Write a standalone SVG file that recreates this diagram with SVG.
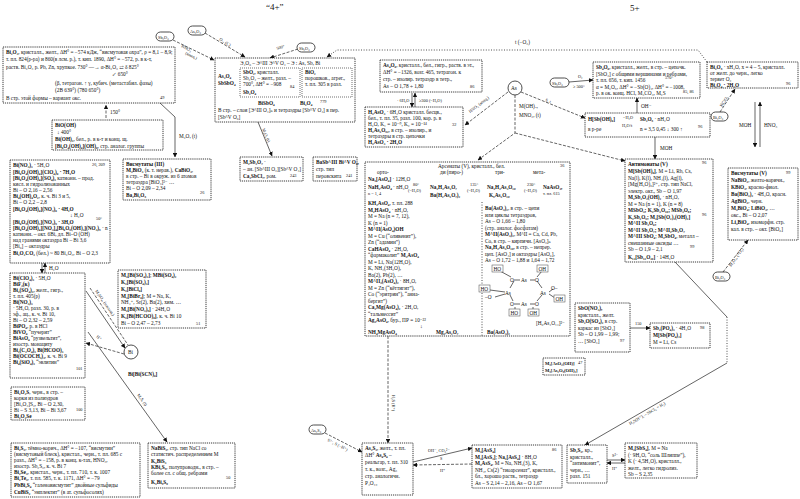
<svg xmlns="http://www.w3.org/2000/svg" width="800" height="499" viewBox="0 0 800 499">
<style>
text{font-family:"Liberation Serif","DejaVu Serif",serif;font-size:5.3px;fill:#111}
.b{font-weight:bold}
.h{font-size:9px}
.s{font-size:4.3px}
.sm{font-size:4.7px}
.bx{fill:#fff;stroke:#222;stroke-width:0.9;stroke-dasharray:1.2 0.9}
.in{fill:none;stroke:#333;stroke-width:0.7;stroke-dasharray:1 1}
.ov{fill:#fff;stroke:#222;stroke-width:0.8}
.d{fill:none;stroke:#222;stroke-width:0.7;stroke-dasharray:3 1.5}
.dt{fill:none;stroke:#222;stroke-width:0.8;stroke-dasharray:1 1.6}
.l{fill:none;stroke:#222;stroke-width:0.7}
.sb{fill:#fff;stroke:#444;stroke-width:0.5}
</style>
<defs>
<marker id="ah" viewBox="0 0 6 6" refX="5.5" refY="3" markerUnits="userSpaceOnUse" markerWidth="4.5" markerHeight="4.5" orient="auto"><path d="M0,0 L6,3 L0,6 z" fill="#111"/></marker>
</defs>
<rect width="800" height="499" fill="#fff"/>
<text class="h" x="266" y="10">“4+”</text>
<text class="h" x="630" y="11">5+</text>

<g id="connectors">
<path class="d" d="M205,33 L245,57" marker-end="url(#ah)"/>
<text class="s" transform="translate(219,40) rotate(31)">O₂, (C)</text>
<path class="d" d="M173,40 L214,60" marker-end="url(#ah)"/>
<text class="s" transform="translate(181,47) rotate(27)">HNO₃</text>
<text class="s" transform="translate(185,54) rotate(27)">(конц.)</text>
<path class="d" d="M298,49 L270,58" marker-end="url(#ah)"/>
<text class="s" transform="translate(277,50) rotate(-18)">500°</text>
<path class="dt" d="M707,62 L698,50 L337,50 L327,57" marker-end="url(#ah)"/>
<text x="515" y="44">t (−O₂)</text>
<path class="l" d="M160,103 L175,117 L175,157" marker-end="url(#ah)"/>
<text x="179" y="138">M₂O, (t)</text>
<path class="d" d="M106,118 L106,105" marker-end="url(#ah)"/>
<text x="110" y="114">150°</text>
<path class="l" d="M258,122 L272,156" marker-end="url(#ah)"/>
<text class="s" transform="translate(262,129) rotate(67)">M₂O, (t)</text>
<path class="l" d="M412,93 L412,107" marker-end="url(#ah)"/>
<path class="l" d="M415,107 L415,93" marker-end="url(#ah)"/>
<text class="s" x="397" y="102">· 6H₂O</text>
<text class="s" x="419" y="102">≥300 (−H₂O)</text>
<path class="l" d="M42,263 L42,273" marker-end="url(#ah)"/>
<path class="l" d="M45,273 L45,263" marker-end="url(#ah)"/>
<text x="49" y="270">H₂O</text>
<path class="l" d="M86,291 L125,348" marker-end="url(#ah)"/>
<path class="d" d="M90,288 L128,345"/>
<text class="s" transform="translate(95,291) rotate(55)">M₂SO₄, (насыщ.)</text>
<path class="d" d="M124,354 L86,343" marker-end="url(#ah)"/>
<text class="s" transform="translate(96,337) rotate(40)">H⁺</text>
<path class="l" d="M88,332 L167,442" marker-end="url(#ah)"/>
<text class="s" transform="translate(137,395) rotate(54)">M₂S, (t)</text>
<path class="d" d="M508,92 L465,125" marker-end="url(#ah)"/>
<text class="s" transform="translate(470,113) rotate(-37)">HNO₃ (конц.)</text>
<path class="d" d="M515,95 L515,133 L478,160" marker-end="url(#ah)"/>
<text x="519" y="108">M(OH)ₓ,</text>
<text x="519" y="117">MNO₃, (t)</text>
<path class="d" d="M515,133 L625,161" marker-end="url(#ah)"/>
<path class="d" d="M521,92 L585,118" marker-end="url(#ah)"/>
<text class="s" transform="translate(545,101) rotate(22)">S, t</text>
<path class="l" d="M569,82 L593,80" marker-end="url(#ah)"/>
<text class="s" x="578" y="78">O₂</text>
<text class="s" x="573" y="88">≥ 500°</text>
<path class="l" d="M637,113 L637,98" marker-end="url(#ah)"/>
<text x="641" y="108">OH⁻</text>
<path class="l" d="M655,137 L655,159" marker-end="url(#ah)"/>
<text x="660" y="150">MOH</text>
<path class="d" d="M720,112 L735,89" marker-end="url(#ah)"/>
<text class="s" transform="translate(722,107) rotate(-57)">KClO₃</text>
<path class="l" d="M755,102 L755,147" marker-end="url(#ah)"/>
<path class="l" d="M760,147 L760,102" marker-end="url(#ah)"/>
<text x="739" y="127">MOH</text>
<text x="764" y="127">HNO₃</text>
<path class="d" d="M723,272 L748,240" marker-end="url(#ah)"/>
<text class="s" transform="translate(731,267) rotate(-55)">M₂O₂, (+O₂)</text>
<path class="l" d="M675,262 L727,317"/>
<path class="dt" d="M727,317 L727,363"/>
<path class="l" d="M727,363 L585,445" marker-end="url(#ah)"/>
<text class="s" transform="translate(630,425) rotate(-30)">H₂S(H⁺), – SbCl₃ + H₂)</text>
<path class="d" d="M388,336 L388,443" marker-end="url(#ah)"/>
<text class="s" transform="translate(392,395) rotate(90)">H₂S (H⁺)</text>
<path class="d" d="M325,433 L362,452" marker-end="url(#ah)"/>
<text class="s" transform="translate(327,441) rotate(27)">S²⁻, S (−H⁺)</text>
<path class="l" d="M413,462 L472,448" marker-end="url(#ah)"/>
<text class="s" x="428" y="452">OH⁻, CO₃²⁻</text>
<text class="s" x="440" y="460">S</text>
<path class="d" d="M472,464 L413,465" marker-end="url(#ah)"/>
<text class="s" x="440" y="472">H⁺</text>
<path class="l" d="M607,460 L625,460" marker-end="url(#ah)"/>
<path class="l" d="M625,463 L607,463" marker-end="url(#ah)"/>
<text class="s" x="612" y="457">S²⁻</text>
<text class="s" x="612" y="470">H⁺</text>
<path class="l" d="M630,328 L650,328" marker-end="url(#ah)"/>
<text class="s" x="635" y="325">150</text>
</g>

<g id="ovals">
<rect class="ov" x="156" y="32" width="18" height="9" rx="4.5"/><text class="s" x="158" y="38.5">Sb₂O₃</text>
<rect class="ov" x="188" y="26" width="18" height="9" rx="4.5"/><text class="s" x="190" y="32.5">As₂O₃</text>
<rect class="ov" x="297" y="43" width="18" height="9" rx="4.5"/><text class="s" x="299" y="49.5">Sb₂O₃</text>
<rect class="ov" x="550" y="78" width="19" height="9" rx="4.5"/><text class="s" x="552" y="84.5">Sb₂O₃</text>
<rect class="ov" x="711" y="112" width="17" height="9" rx="4.5"/><text class="s" x="713" y="118.5">Bi₂O₃</text>
<rect class="ov" x="713" y="272" width="17" height="9" rx="4.5"/><text class="s" x="715" y="278.5">Bi₂O₃</text>
<rect class="ov" x="309" y="425" width="17" height="9" rx="4.5"/><text class="s" x="311" y="431.5">As₂S₃</text>
<circle class="ov" cx="515" cy="88" r="7"/><text x="511" y="90">As</text>
<circle class="ov" cx="131" cy="352" r="7"/><text x="128" y="354">Bi</text>
<text class="b" x="128" y="376">Bi[Bi(SCN)₆]</text>
</g>

<g id="n-bi2o3">
<rect class="bx" x="3" y="47" width="172" height="56"/>
<text x="6" y="54"><tspan class="b">Bi₂O₃</tspan>, кристалл., желт., ΔH° = −574 кДж, “висмутовая охра”, ρ = 8,1 – 8,9;</text>
<text x="6" y="61">т. пл. 824(р-ра) и 860(в лсм. р.), т. кип. 1890, ΔH° = −572, р. в к-т,</text>
<text x="6" y="69">раств. Bi₂O₃ р. Pb, Zn, хрупкое.  730° —→ α-Bi₂O₃ ⇄ δ  825°</text>
<text x="112" y="76">↙ 650°</text>
<text x="55" y="85">(β, тетрагон.  ↑  γ, кубич.   (метастабил. фазы)</text>
<text x="55" y="92">(2B 639°)    (780 650°)</text>
<text x="6" y="100">В стр. этой формы – вариант окс.</text>
<text class="s" x="160" y="99">49</text>
</g>

<g id="n-bioh">
<rect class="bx" x="52" y="120" width="111" height="30"/>
<text class="b" x="55" y="127">BiO(OH)</text>
<text x="57" y="134">↓ 400°</text>
<text x="55" y="141"><tspan class="b">Bi(OH)₃</tspan>, бел., р. в к-т и конц. щ.</text>
<text x="55" y="148"><tspan class="b">[Bi₆O₄(OH)₄](OH)₆</tspan>, стр. аналог. группы</text>
</g>

<g id="n-bi-salts">
<rect class="bx" x="10" y="160" width="100" height="103"/>
<text x="13" y="167"><tspan class="b">Bi(NO₃)₃</tspan> · 5H₂O</text><text class="s" x="92" y="166">26, 209</text>
<text class="b" x="13" y="174">[Bi₆O₄(OH)₄](ClO₄)₆ · 7H₂O</text>
<text x="13" y="180"><tspan class="b">[Bi₆O₄(OH)₄](SO₄)₃</tspan> катионн. – прод.</text>
<text x="13" y="186">кисл. и гидролизованных</text>
<text x="13" y="192">Bi – O 2,16 – 2,56</text>
<text x="13" y="198"><tspan class="b">Bi₄(OH)₄O₂</tspan>, к. ч. Bi 3 и 5,</text>
<text x="13" y="204">Bi – O 2,2 – 2,8</text>
<text class="b" x="13" y="211">[Bi₆O₄(OH)₄](NO₃)₆ · 4H₂O</text>
<text x="70" y="217">↓ H₂O</text><text class="s" x="96" y="220">50°</text>
<text class="b" x="13" y="224">[Bi₆O₅(OH)₃](NO₃)₅ · 3H₂O</text>
<text x="13" y="230"><tspan class="b">[Bi₆O₄(OH)₄][NO₃]₄[Bi₆O₅(OH)₃](NO₃)₅</tspan> · n</text>
<text x="13" y="236">катионн. – окт. 6Bi, дл. Bi–O (OH)</text>
<text x="13" y="242">над гранями октаэдра  Bi – Bi 3,6</text>
<text x="13" y="248">[Bi₆] – октаэдры</text>
<text x="13" y="255"><tspan class="b">Bi₂O₂CO₃</tspan> (бел.) ~ 80 Bi₂O₃, Bi – O 2,3</text>
</g>

<g id="n-bismuthates3">
<rect class="bx" x="123" y="159" width="88" height="41"/>
<text class="b" x="126" y="166">Висмутаты (III)</text>
<text x="126" y="172"><tspan class="b">M₃BiO₃</tspan> (к. т. нерав.), <tspan class="b">CaBiO₃</tspan>,</text>
<text x="126" y="178">в стр. – Bi в окруж. из 6 атомов</text>
<text x="126" y="184">тетраэдра [BiO₃]³⁻ …</text>
<text x="126" y="190">Bi – O 2,09 – 2,34</text>
<text class="b" x="126" y="197">Ba₂Bi₂O₅</text>
<text class="s" x="200" y="194">26</text>
</g>

<g id="n-bisulf">
<rect class="bx" x="118" y="270" width="88" height="58"/>
<text x="121" y="277"><tspan class="b">M₃[Bi(SO₄)₃]</tspan>; <tspan class="b">MBi(SO₄)₂</tspan></text>
<text class="b" x="121" y="284">K₃[Bi(SO₄)₃]</text>
<text class="b" x="121" y="291">K₃[BiCl₆]</text>
<text x="121" y="298"><tspan class="b">M₃[BiBr₆]</tspan>; M = Na, K,</text>
<text x="121" y="304">NH₄⁺, Sr(2), Ba(2), хим. …</text>
<text x="121" y="311"><tspan class="b">M₂[Bi(NO₃)₅]</tspan> · 24H₂O</text>
<text x="121" y="318"><tspan class="b">K₃[Bi(HCOO)₆]</tspan>, к. ч. Bi 10</text>
<text x="121" y="325">Bi – O 2,47 – 2,73</text><text class="s" x="196" y="325">51</text>
</g>

<g id="n-biclo4">
<rect class="bx" x="10" y="273" width="75" height="105"/>
<text x="13" y="280"><tspan class="b">Bi(ClO₄)₃</tspan> · 5H₂O</text>
<text class="b" x="13" y="286">BiF₃(к)</text>
<text x="13" y="292"><tspan class="b">Bi₂(SO₄)₃</tspan>, желт., гигр.,</text>
<text x="13" y="298">т. пл. 405(р)</text>
<text class="b" x="13" y="304">Bi(NO₃)₃</text>
<text x="13" y="310">   · 5H₂O, разл. 30, р. в</text>
<text x="13" y="316">эф., ац., к. ч. Bi 10,</text>
<text x="13" y="322">Bi – O 2,32 – 2,59</text>
<text x="13" y="328"><tspan class="b">BiPO₄</tspan>, р. в HCl</text>
<text x="13" y="334"><tspan class="b">BiVO₄</tspan> “пучерит”</text>
<text x="13" y="340"><tspan class="b">BiAsO₄</tspan> “рузвельтит”,</text>
<text x="13" y="346">изостр. монациту</text>
<text class="b" x="13" y="352">Bi₂(C₂O₄)₃    Bi(HCOO)₃</text>
<text x="13" y="358"><tspan class="b">Bi(OCOCH₃)₃</tspan>, к. ч. Bi 9</text>
<text x="13" y="364"><tspan class="b">Bi₄(SiO₄)₃</tspan> “эвлитин”</text><text class="s" x="76" y="370">101</text>
</g>

<g id="n-bi2o2s">
<rect class="bx" x="11" y="387" width="74" height="33"/>
<text x="14" y="394"><tspan class="b">Bi₂O₂S</tspan>, черн., в стр. –</text>
<text x="14" y="400">корки из полиэдров</text>
<text x="14" y="406">[Bi₂O₂]S₂, Bi – O 2,30,</text>
<text x="14" y="412">Bi – S 3,13, Bi – Bi 3,67</text><text class="s" x="76" y="411">100</text>
<text class="b" x="14" y="418">Bi₂O₂Se</text>
</g>

<g id="n-bi2s3">
<rect class="bx" x="11" y="443" width="129" height="54"/>
<text x="14" y="450"><tspan class="b">Bi₂S₃</tspan>, тёмно-корич., ΔH° = −107, “висмутин”</text>
<text x="14" y="456">(висмутовый блеск), кристал., черн., т. пл. 685 с</text>
<text x="14" y="462">разл., ΔH° = −158, р. в конц. к-тах, HNO₃,</text>
<text x="14" y="468">изостр. Sb₂S₃, к. ч. Bi 7</text>
<text x="14" y="474"><tspan class="b">Bi₂Se₃</tspan>, кристал., черн., т. пл. 710, т. к. 1007</text>
<text x="14" y="480"><tspan class="b">Bi₂Te₃</tspan>, т. пл. 585, т. к. 1171, ΔH° = −79</text>
<text x="14" y="487"><tspan class="b">PbBi₂S₄</tspan> “галеновисмутит”  двойные сульфиды</text>
<text x="14" y="494"><tspan class="b">CuBiS₂</tspan> “эмплектит”      (в ат. сульфосолях)</text>
</g>

<g id="n-nabis2">
<rect class="bx" x="148" y="443" width="87" height="45"/>
<text x="151" y="450"><tspan class="b">NaBiS₂</tspan>, стр. тип NaCl со</text>
<text x="151" y="456">статистич. распределением M</text>
<text class="b" x="151" y="463">K₃BiS₃</text>
<text x="151" y="469"><tspan class="b">KBi₃S₅</tspan>, полупроводн., в стр. –</text>
<text x="151" y="475">более сл. с общ. ребрами</text>
<text class="s" x="226" y="479">50</text>
<text class="b" x="151" y="484">K₃Bi₅S₉</text>
</g>

<g id="n-oxides4">
<rect class="bx" x="215" y="58" width="140" height="64"/>
<text x="240" y="65">Э₄O₆ – Э^III Э^V O₄ – Э : As, Sb, Bi</text>
<text class="b" x="218" y="78">As₂O₄</text>
<text class="b" x="218" y="85">SbSbO₄</text>
<rect class="in" x="240" y="68" width="60" height="29"/>
<text x="243" y="74"><tspan class="b">SbO₂</tspan>, кристалл.</text>
<text x="243" y="80">Sb₂O₄ – желт., разл. –</text>
<text x="243" y="86">700°, ΔH° = −908</text><text class="s" x="290" y="88">84</text>
<text class="b" x="243" y="94">Sb₂O₄</text>
<rect class="in" x="302" y="68" width="50" height="29"/>
<text class="b" x="305" y="74">BiO₂</text>
<text x="305" y="80">порошков., агрег.,</text>
<text x="305" y="86">т. пл. 305 в разл.</text>
<text class="b" x="258" y="105">BiSbO₄</text>
<text class="b" x="300" y="105">Bi₂O₄</text><text class="s" x="320" y="103">779</text>
<text x="218" y="112">В стр. – слои [Э^III O₄]ₙ и тетраэдры [Sb^V O₄] в пер.</text>
<text x="218" y="119">[Sb^V O₆]</text>
</g>

<g id="n-m2sb2o7">
<rect class="bx" x="240" y="157" width="63" height="24"/>
<text x="243" y="164"><tspan class="b">M₂Sb₂O₇</tspan> ·</text>
<text x="243" y="171">– ан. [Sb^III O₃][Sb^V O₄]</text>
<text x="243" y="178"><tspan class="b">Ca₂SbCl₇</tspan>, ром.</text><text class="s" x="290" y="177">243</text>
</g>

<g id="n-basb">
<rect class="bx" x="313" y="157" width="44" height="24"/>
<text class="b" x="316" y="164">BaSb^III Bi^V O₆,</text>
<text x="316" y="171">стр. тип</text>
<text x="316" y="178">перовскита</text><text class="s" x="346" y="177">241</text>
</g>

<g id="n-as4o6">
<rect class="bx" x="380" y="60" width="102" height="32"/>
<text x="383" y="67"><tspan class="b">As₄O₆</tspan>, кристалл., бел., гигр., раств. в эт.,</text>
<text x="383" y="74">ΔH° = −1326, возг. 465, тетрагон. к</text>
<text x="383" y="81">стр. – изолир. тетраэдр в тетр.,</text>
<text x="383" y="88">As – O 1,78 ÷ 1,80</text><text class="s" x="470" y="88">86</text>
</g>

<g id="n-h3aso3">
<rect class="bx" x="365" y="107" width="98" height="40"/>
<text x="368" y="114"><tspan class="b">H₃AsO₃</tspan> · 6H₂O кристалл. бесцв.,</text>
<text x="368" y="120">бел., т. пл. 35, разл. 100, кор. р. в</text>
<text x="368" y="126">H₂O, K₁ = 10⁻⁹, K₂ = 10⁻¹⁴</text><text class="s" x="452" y="126">32</text>
<text x="368" y="132"><tspan class="b">H₃As₃O₅₂</tspan>, в стр. – изолир., и</text>
<text x="368" y="138">тетраэдры в стр. цепочки</text>
<text class="b" x="368" y="144">H₃AsO₃ · 2H₂O</text>
</g>

<g id="n-arsenates">
<rect class="bx" x="365" y="162" width="205" height="174"/>
<text x="438" y="168">Арсенаты (V), кристалл., бел.</text><text class="s" x="560" y="167">36</text>
<text x="377" y="174">орто-</text><text x="440" y="174">ди (пиро-)</text><text x="495" y="174">три-</text><text x="533" y="174">мета-</text>
<text x="368" y="181"><tspan class="b">Na₃[AsO₄]</tspan> · 12H₂O</text>
<text x="368" y="189"><tspan class="b">NaH₂AsO₄</tspan> · nH₂O</text>
<text class="s" x="368" y="195">n = 1, 4</text>
<text class="s" x="413" y="186">80°</text><text class="s" x="408" y="192">(−H₂O)</text>
<text class="b" x="430" y="189">Na₂H₂As₂O₇</text>
<text class="s" x="470" y="186">135°</text><text class="s" x="467" y="192">(−H₂O)</text>
<text class="b" x="487" y="189">Na₃H₂As₃O₁₀</text>
<text class="s" x="527" y="186">230°</text><text class="s" x="524" y="192">(−H₂O)</text>
<text class="b" x="543" y="189">NaAsO₃,</text>
<text class="s" x="543" y="195">т. пл. 615</text>
<text class="b" x="430" y="197">Ba(H₂As₂O₇)₂</text>
<text class="b" x="489" y="197">K₅As₃O₁₀</text>
<path class="dt" d="M482,202 L482,336"/>
<text x="368" y="205"><tspan class="b">KH₂AsO₄</tspan>, т. пл. 288</text>
<text x="368" y="211.5"><tspan class="b">M₂HAsO₄</tspan> · nH₂O,</text>
<text x="368" y="218">M = Na (n = 7, 12),</text>
<text x="368" y="224.5">K (n = 1)</text>
<text class="b" x="368" y="231">M^II(AsO₄)OH</text>
<text x="368" y="237.5">M = Cu (“оливенит”),</text>
<text x="368" y="244">Zn (“адамин”)</text>
<text x="368" y="250.5"><tspan class="b">CaHAsO₄</tspan> · 2H₂O,</text>
<text x="368" y="257">“фармаколит” <tspan class="b">M₃AsO₄</tspan></text>
<text x="368" y="263.5">M = Li, Na(12H₂O),</text>
<text x="368" y="270">K, NH₄(3H₂O),</text>
<text x="368" y="276.5">Ba(2), Pb(2), …</text>
<text x="368" y="283"><tspan class="b">M^II₃(AsO₄)₂</tspan> · 8H₂O,</text>
<text x="368" y="289.5">M = Zn (“кёттигит”),</text>
<text x="368" y="296">Co (“эритрин”), “анна-</text>
<text x="368" y="302.5">бергит”)</text>
<text x="368" y="309"><tspan class="b">Ca₂Mg(AsO₄)₂</tspan> · 2H₂O,</text>
<text x="368" y="315.5">“тальмессит”</text>
<text x="368" y="322"><tspan class="b">Ag₃AsO₄</tspan>, бур., ПР = 10⁻²²</text>
<text x="420" y="328">↓</text>
<text class="b" x="368" y="334">NH₄MgAsO₄</text>
<text class="b" x="436" y="334">Mg₂As₂O₇</text>
<text class="b" x="487" y="334">Ba(AsO₃)₂</text>
<text x="485" y="210"><tspan class="b">Ba(AsO₃)₂</tspan>, в стр. – цепи</text>
<text x="485" y="216.5">или циклы тетраэдров,</text>
<text x="485" y="223">As – O 1,66 – 1,80</text>
<text x="485" y="229.5">(стр. аналог. фосфатам)</text>
<text x="485" y="236"><tspan class="b">M^II(AsO₃)₂</tspan>, M^II = Ca, Cd, Pb,</text>
<text x="485" y="242.5">Co, в стр. – кирпичн. [AsO₃]ₙ</text>
<text x="485" y="249"><tspan class="b">Na₃H₂As₃O₁₀</tspan>, в стр. – непрер.</text>
<text x="485" y="255.5">цеп. [AsO₄] и октаэдры [AsO₆],</text>
<text x="485" y="262">As – O 1,72 – 1,88 и 1,64 – 1,72</text>
<g id="ring">
<path class="l" d="M500,271 L511,277 M542,271 L537,277 M514,280 L520,280 M530,280 L535,280 M514,281 L510,288 M537,281 L542,288 M490,290 L505,292 M495,297 L505,294 M549,292 L553,289 M549,294 L555,298 M510,295 L513,301 M542,295 L537,301 M514,304 L520,304 M530,304 L535,304 M515,307 L515,309 M533,307 L533,309"/>
<rect class="sb" x="492" y="265" width="11" height="7"/><text x="493.5" y="270.5">HO</text>
<rect class="sb" x="537" y="265" width="11" height="7"/><text x="538.5" y="270.5">OH</text>
<text x="510" y="282">O</text><text x="521" y="282">As</text><text x="535" y="282">O</text>
<rect class="sb" x="479" y="285" width="11" height="7"/><text x="480.5" y="290.5">HO</text>
<text x="505" y="295">As</text><text x="540" y="295">As</text><text x="551" y="290">O–</text>
<text x="485" y="299">–O</text>
<rect class="sb" x="554" y="295" width="11" height="7"/><text x="555.5" y="300.5">OH</text>
<text x="510" y="306">O</text><text x="521" y="306">As</text><text x="535" y="306">O</text>
<rect class="sb" x="509" y="309" width="11" height="7"/><text x="510.5" y="314.5">HO</text>
<rect class="sb" x="528" y="309" width="11" height="7"/><text x="529.5" y="314.5">OH</text>
<text x="536" y="325">[H₆As₄O₁₄]²⁻</text>
</g>
</g>

<g id="n-sb4o6">
<rect class="bx" x="593" y="62" width="107" height="36"/>
<text x="596" y="69"><tspan class="b">Sb₄O₆</tspan>, кристалл., желт., в стр. – цепочк.</text>
<text x="596" y="75.5">[SbO₃] с общими вершинами и ребрами,</text>
<text x="596" y="82">т. пл. 656, т. кип. 1456</text><text class="s" x="665" y="79">570°</text>
<text x="596" y="88.5">α = M₂O₅, ΔH° = −Sb(O)₄, ΔH° = −1008,</text>
<text x="596" y="95">р. в ок. конц. HCl, M₂CO₃, M₂S</text><text class="s" x="683" y="93">85, 86</text>
</g>

<g id="n-hsboh">
<rect class="bx" x="585" y="113" width="125" height="24"/>
<text x="588" y="121"><tspan class="b">H[Sb(OH)₆]</tspan></text>
<text class="s" x="623" y="119">−H₂O</text><text class="s" x="622" y="127">H₂O/t</text>
<text x="640" y="121"><tspan class="b">Sb₂O₅</tspan> · nH₂O</text>
<text x="588" y="131">в р-ре</text>
<text x="640" y="131">n = 3,5   0,45 ↓ 300 ↑</text><text class="s" x="698" y="128">96</text>
</g>

<g id="n-bi2o5">
<rect class="bx" x="707" y="62" width="91" height="26"/>
<text x="710" y="69"><tspan class="b">Bi₂O₅</tspan> · xH₂O, x = 4 – 5, кристалл.</text>
<text x="710" y="75">от желт. до черн., легко</text>
<text x="710" y="81">теряет O₂</text>
<text class="b" x="710" y="87">Bi₂O₄ · 2H₂O</text><text class="s" x="786" y="85">96</text>
</g>

<g id="n-antimonates">
<rect class="bx" x="625" y="159" width="88" height="103"/>
<text class="b" x="628" y="166">Антимонаты (V)</text><text class="s" x="702" y="164">96</text>
<text x="628" y="173"><tspan class="b">M[Sb(OH)₆]</tspan>, M = Li, Rb, Cs,</text>
<text x="628" y="179.5">Na(l), K(l), NH₄(l), Ag(l),</text>
<text x="628" y="186">[Mg(H₂O)₆]²⁺, стр. тип NaCl,</text>
<text x="628" y="192.5">электр. окт., Sb – O 1,97</text>
<text x="628" y="199"><tspan class="b">M₂Sb₂O₂(OH)₂</tspan> · nH₂O,</text>
<text x="628" y="205.5">M = Na (n = 1), K (n = 8)</text>
<text class="b" x="628" y="212">MSbO₃; K₃Sb₃O₁₀; MSb₃O₈;</text>
<text class="b" x="628" y="218.5">K₃Sb₂O₅; M₃[Sb(O₂)₂(OH)₂]</text><text class="s" x="702" y="216">96</text>
<text class="b" x="628" y="225">M^II Sb₂O₆;</text>
<text class="b" x="628" y="231.5">M^II Sb₂O₇; M^II₂Sb₂O₇</text>
<text x="628" y="238"><tspan class="b">M^III SbO₄</tspan>; <tspan class="b">M₃SbO₄</tspan>, металл –</text>
<text x="628" y="244.5">смешанные оксиды …</text>
<text x="628" y="251">Sb – O 1,9 – 2,1</text><text class="s" x="690" y="248">99</text>
<text x="628" y="259"><tspan class="b">K₁₂[Sb₁₂O₃₀]</tspan> · 14H₂O</text>
</g>

<g id="n-bismuthates5">
<rect class="bx" x="728" y="168" width="70" height="72"/>
<text class="b" x="731" y="175">Висмутаты (V)</text><text class="s" x="786" y="174">99</text>
<text x="731" y="182"><tspan class="b">NaBiO₃</tspan>, желто-коричн.,</text>
<text x="731" y="189"><tspan class="b">KBiO₃</tspan>, красно-фиол.</text>
<text x="731" y="196"><tspan class="b">Ba(BiO₃)₂</tspan> · 4H₂O, красн.</text>
<text x="731" y="203"><tspan class="b">AgBiO₃</tspan>, черн.</text>
<text x="731" y="210"><tspan class="b">M₃BiO₄</tspan>; <tspan class="b">LiBiO₃</tspan>, …</text>
<text x="731" y="217">окс., Bi – O 2,07</text>
<text x="731" y="224"><tspan class="b">Li₃BiO₄</tspan>, изоморфн. стр.</text>
<text x="731" y="231">кал. в стр. – окт. [BiO₆]</text>
</g>

<g id="n-sbono3">
<rect class="bx" x="575" y="303" width="55" height="49"/>
<text class="b" x="578" y="310">SbO(NO₃),</text>
<text x="578" y="316.5">кристалл., желт.</text>
<text x="578" y="323"><tspan class="b">Sb₂O(SO₄)₂</tspan> в стр.</text>
<text x="578" y="329.5">каркас из [SbO₄]</text>
<text x="578" y="336">Sb – O 1,99 – 1,99;</text>
<text x="578" y="342.5">… [SbO₃]</text><text class="s" x="620" y="342">97</text>
</g>

<g id="n-sbpo4">
<rect class="bx" x="650" y="323" width="60" height="25"/>
<text x="653" y="330"><tspan class="b">Sb₂(PO₄)₃</tspan> · 4H₂O</text><text class="s" x="700" y="329">98</text>
<text class="b" x="653" y="337">M[Sb(PO₄)₂]</text>
<text x="653" y="344">M = Li, Cs</text>
</g>

<g id="n-m2aso3">
<rect class="bx" x="543" y="358" width="42" height="17"/>
<text class="b sm" x="545" y="365">M₂[AsO₃(OH)]</text><text class="s" x="578" y="364">47</text>
<text class="b sm" x="545" y="372">M₂[As₂O₅(OH)₂]</text>
</g>

<g id="n-as2s3">
<rect class="bx" x="362" y="443" width="51" height="52"/>
<text x="365" y="450"><tspan class="b">As₂S₃</tspan>, желт., т. пл.</text>
<text x="365" y="457">ΔH°  <tspan class="b">As₄S₄</tspan> –</text>
<text x="365" y="464">реальгар, т. пл. 310</text>
<text x="365" y="471">т. к., возг., Ag₃</text>
<text x="365" y="478">стр. аналогичн.</text>
<text x="365" y="485">P₄O₁₀</text>
</g>

<g id="n-m3ass4">
<rect class="bx" x="472" y="445" width="90" height="43"/>
<text class="b" x="475" y="452">M₃[AsS₄]</text><text class="s" x="552" y="451">86</text>
<text x="475" y="458.5"><tspan class="b">M₃[AsS₃]</tspan>; <tspan class="b">Na₃[AsS₄]</tspan> · 8H₂O</text>
<text x="475" y="465"><tspan class="b">M₃AsS₄</tspan>, M = Na, NH₄(3), K,</text>
<text x="475" y="471.5">NH₄, Cs(2) “тиоарсенат”, кристалл.,</text>
<text x="475" y="478">бл., хорошо раств., тетраэдр</text>
<text x="475" y="484.5">As – S 2,14 – 2,16, As – O 1,67</text>
</g>

<g id="n-sb2s3">
<rect class="bx" x="567" y="445" width="40" height="38"/>
<text x="570" y="452"><tspan class="b">Sb₂S₃</tspan>, кр.,</text>
<text x="570" y="458.5">кристалл.,</text>
<text x="570" y="465">“антимонит”,</text>
<text x="570" y="471.5">черн., …</text>
<text x="570" y="478">разл. 151</text>
</g>

<g id="n-m3sbs4">
<rect class="bx" x="625" y="443" width="72" height="35"/>
<text x="628" y="450"><tspan class="b">M₃[SbS₄]</tspan>, M = Na</text>
<text x="628" y="456.5">(· 9H₂O, “соль Шлиппе”),</text>
<text x="628" y="463">K (· 4,5H₂O), кристалл.,</text>
<text x="628" y="469.5">желт., легко гидролиз.</text>
<text x="628" y="476">Sb – S 2,35</text>
</g>
</svg>
